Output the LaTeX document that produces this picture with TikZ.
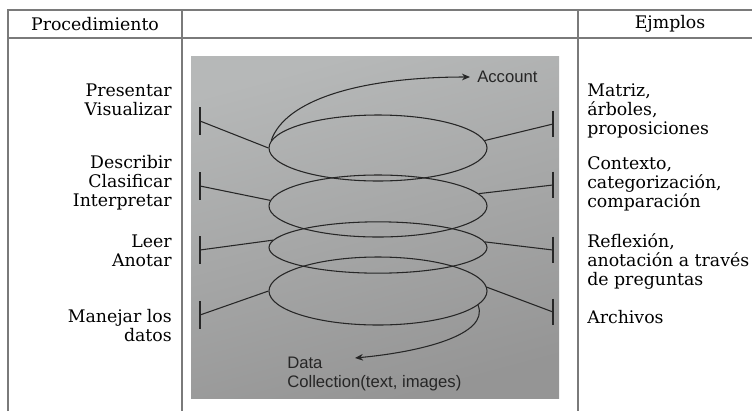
\documentclass[tikz,border=0pt]{standalone}
\usepackage{fontspec}
\setmainfont{DejaVu Serif}
\newfontfamily\photofont{Liberation Sans}
\usetikzlibrary{arrows.meta,shapes.geometric}
\definecolor{ruleGray}{HTML}{7A7A7A}
\definecolor{inkGray}{HTML}{262626}
\definecolor{photoDark}{HTML}{959595}
\definecolor{photoLight}{HTML}{B6B8B8}

\begin{document}
\begin{tikzpicture}[x=0.75pt,y=-0.75pt,
  rule/.style={ruleGray,line width=0.8pt},
  loop/.style={ellipse,draw=inkGray,line width=0.8pt,inner sep=0pt,minimum width=163.5pt},
  tie/.style={inkGray,line width=0.8pt},
  flow/.style={inkGray,line width=0.8pt,-{Stealth[length=6pt,width=5pt]}},
  lbl/.style={font=\fontsize{13}{14.25}\selectfont,inner sep=0pt},
  ph/.style={inkGray,font=\photofont\fontsize{12.5}{14.25}\selectfont,inner sep=0pt}]
  \useasboundingbox (0,0) rectangle (752,411);
  % table rules
  \draw[rule] (8,411) -- (8,10) -- (752,10);
  \draw[rule] (8,38) -- (752,38);
  \draw[rule] (182,10) -- (182,411);
  \draw[rule] (578,10) -- (578,411);
  \node[lbl] (hproc) at (95,24) {Procedimiento};
  \node[lbl] (hej) at (670,24) {Ejmplos};
  % photo of the spiral
  \shade[top color=photoLight,bottom color=photoDark,shading angle=15] (191,56) rectangle (559,398);
  \foreach \y/\h [count=\i] in {148/49.5,206/46.5,247.5/38.5,291/51}
    \node[loop,minimum height=\h pt] (e\i) at (378,\y) {};
  \foreach \i/\ly/\ry in {1/121/124,2/186/185,3/250/250,4/315/312} {
    \coordinate (lb\i) at (200,\ly);
    \coordinate (rb\i) at (553,\ry);
    \draw[tie,line width=1pt] ([yshift=10.5pt]lb\i) -- ([yshift=-10.5pt]lb\i);
    \draw[tie,line width=1pt] ([yshift=10pt]rb\i) -- ([yshift=-10pt]rb\i);
  }
  \draw[tie] (e1.west) -- (lb1);
  \draw[tie] (e2.177) -- (lb2);
  \draw[tie] (e3.176) -- (lb3);
  \draw[tie] (e4.west) -- (lb4);
  \draw[tie] (e1.4) -- (rb1);
  \draw[tie] (e2.7) -- (rb2);
  \draw[tie] (e3.3) -- (rb3);
  \draw[tie] (e4.2) -- (rb4);
  \node[ph,anchor=west,inner xsep=5.25pt] (acc) at (470,77) {Account};
  \draw[flow] (e1.176) .. controls (285,100) and (360,77) .. (acc.west);
  \node[ph,anchor=north west,align=left] (data) at (287,356.5) {Data\\Collection(text, images)};
  \coordinate (dtip) at (355,358);
  \draw[flow] (e4.-8) .. controls (490,335) and (420,352) .. (dtip);
  % procedures
  \node[lbl,anchor=east,align=right] (p1) at (172,100) {Presentar\\Visualizar};
  \node[lbl,anchor=east,align=right] (p2) at (172,183) {Describir\\Clasificar\\Interpretar};
  \node[lbl,anchor=east,align=right] (p3) at (172,251) {Leer\\Anotar};
  \node[lbl,anchor=east,align=right] (p4) at (172,326) {Manejar los\\datos};
  % examples
  \node[lbl,anchor=west,align=left] (x1) at (587,110.5) {Matriz,\\árboles,\\proposiciones};
  \node[lbl,anchor=west,align=left] (x2) at (587,184) {Contexto,\\categorización,\\comparación};
  \node[lbl,anchor=west,align=left] (x3) at (587,261) {Reflexión,\\anotación a través\\de preguntas};
  \node[lbl,anchor=west,align=left] (x4) at (587,317) {Archivos};
\end{tikzpicture}
\end{document}
